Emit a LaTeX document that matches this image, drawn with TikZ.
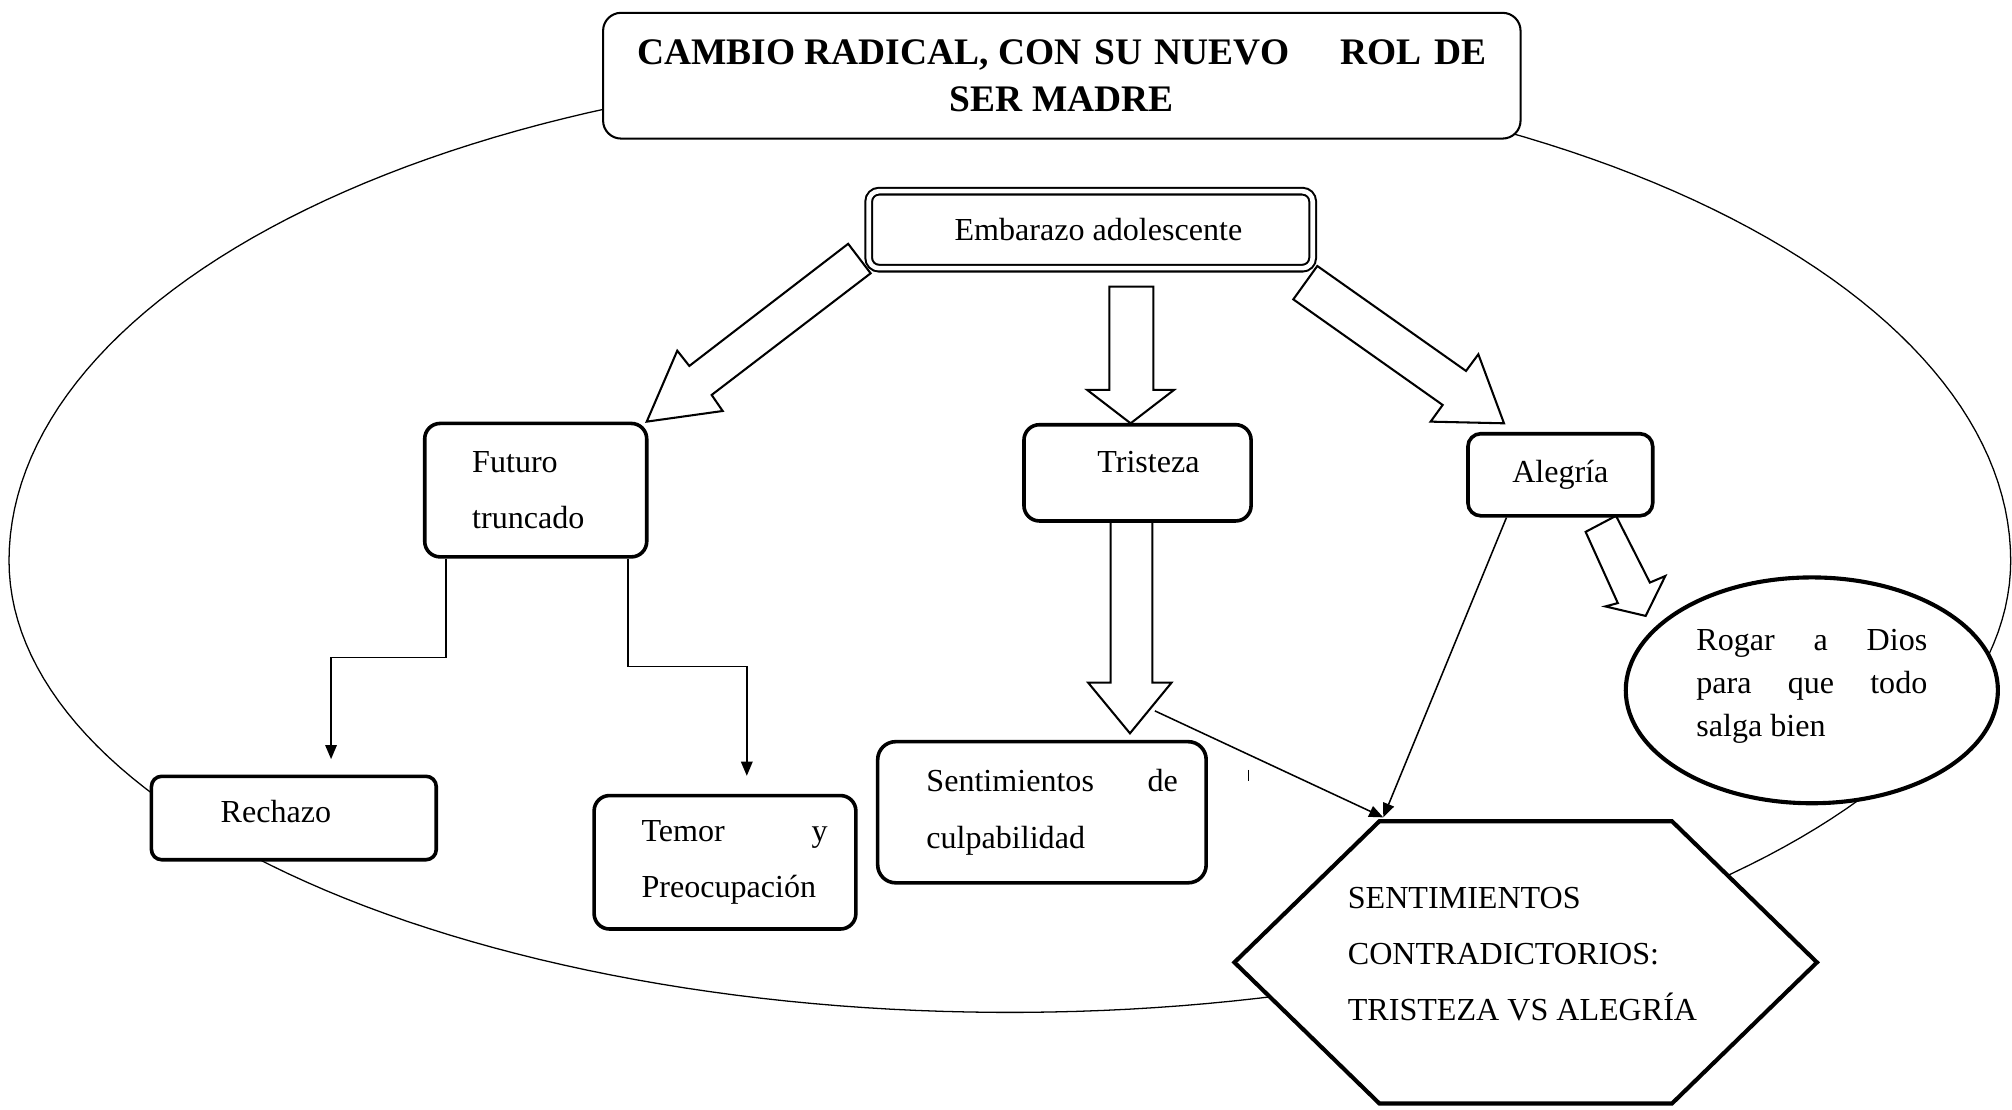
\documentclass[tikz,border=0pt]{standalone}
\usepackage{fontspec}
\setmainfont{Liberation Serif}
\usetikzlibrary{arrows.meta,shapes.geometric}
\newcommand\myfill{\hskip 0pt plus 1filll\relax}
\begin{document}
\begin{tikzpicture}[x=0.5pt,y=-0.5pt,
  txt/.style={font=\fontsize{12.5}{22}\selectfont},
  box/.style={draw, line width=1.4pt, rounded corners=6pt, fill=white, inner sep=0pt, txt},
  blockarrow/.style={draw, line width=0.8pt, fill=white, line join=miter},
  conn/.style={draw, line width=0.6pt, -{Triangle[length=5.5pt,width=4.5pt]}},
  outline/.style={draw, line width=0.5pt}]
\useasboundingbox (0,0) rectangle (1568,865);

% big enclosing curve
\draw[outline] plot[domain=180:360, samples=120] ({787+780*cos(\x)}, {437+385*sin(\x)})
  -- plot[domain=0:180, samples=120] ({787+780*cos(\x)}, {437+352*sin(\x)});

% block arrows
\draw[blockarrow] (661,190) -- (678.5,213) -- (554.6,307.8) -- (563.2,320.3) -- (504,328.6) -- (527.8,273.3) -- (537.2,285.2) -- cycle;
\draw[blockarrow] (864.5,223.4) -- (898.8,223.4) -- (898.8,303.9) -- (914.9,303.9) -- (881.1,329.9) -- (847.3,303.9) -- (864.5,303.9) -- cycle;
\draw[blockarrow] (1026.6,207.3) -- (1142.5,289.1) -- (1152.1,276.1) -- (1172.1,329.9) -- (1114.9,328.6) -- (1124.3,315.6) -- (1007.9,233.3) -- cycle;
\draw[blockarrow] (865.5,406.5) -- (898,406.5) -- (898,532) -- (913,532) -- (880.6,571.5) -- (848,532) -- (865.5,532) -- cycle;
\draw[blockarrow] (1259.4,402) -- (1285.8,454) -- (1297.8,448.9) -- (1282.5,480) -- (1251.1,472.6) -- (1260.8,470) -- (1235.7,414.5) -- cycle;

% title
\node[draw, line width=0.8pt, rounded corners=7pt, fill=white, minimum width=357.5pt, minimum height=49pt,
      inner sep=0pt, align=center, font=\fontsize{14.6}{18.5}\selectfont\bfseries] (title) at (827.5,59)
  {\makebox[331pt]{CAMBIO RADICAL, CON\hfill SU\hfill NUEVO\hfill\hfill\hfill\hfill ROL\hfill DE}\\SER MADRE};

% root
\node[draw, line width=0.8pt, double=white, double distance=1.8pt, rounded corners=4pt, fill=white,
      minimum width=173pt, minimum height=30pt, inner sep=0pt, txt] (emb) at (850,179)
  {\hspace*{6pt}Embarazo adolescente};

% second level
\node[box, minimum width=86.5pt, minimum height=52pt, text width=49.5pt, align=left] (fut) at (417.5,382) {Futuro\\truncado};
\node[box, minimum width=88.5pt, minimum height=37.5pt, text height=5pt, text depth=5pt] (tri) at (886.5,368.5) {\hspace*{8.5pt}Tristeza};
\node[box, rounded corners=5pt, minimum width=72pt, minimum height=32pt] (ale) at (1216,370) {Alegría};

% third level
\node[box, rounded corners=4pt, minimum width=111pt, minimum height=32.5pt, text height=8.5pt, text depth=5pt] (rech) at (229,637.5) {Rechazo\hspace*{14pt}};
\node[box, minimum width=102pt, minimum height=52pt, text width=80pt, align=justify] (tem) at (565,672)
  {\hspace*{7.5pt}Temor\myfill y\\\hspace*{7.5pt}Preocupación};
\node[box, rounded corners=7pt, minimum width=128pt, minimum height=55pt, text width=106pt, align=justify] (sent) at (812,633)
  {\hspace*{8pt}Sentimientos\myfill de\\\hspace*{8pt}culpabilidad};
\node[draw, ellipse, line width=1.6pt, fill=white, minimum width=145pt, minimum height=88pt, inner sep=0pt,
      text width=90pt, align=justify, font=\fontsize{12.5}{16.75}\selectfont] (rog) at (1412,538)
  {Rogar\myfill a\myfill Dios\\para\myfill que\myfill todo\\salga bien\vspace*{3pt}};

% hexagon
\draw[line width=1.6pt, fill=white] (962,750) -- (1075,640) -- (1303,640) -- (1416,750) -- (1303,860) -- (1075,860) -- cycle;
\node[inner sep=0pt, anchor=west, align=left, font=\fontsize{12.5}{21.75}\selectfont] (hex) at (1050,743.5)
  {SENTIMIENTOS\\CONTRADICTORIOS:\\TRISTEZA VS ALEGRÍA};
\coordinate (hexTL) at (1078,637);
\coordinate (triHead) at (900,554);

% connectors
\draw[conn, shorten >=6pt] ([xshift=9pt]fut.south west) -- ++(0,77) -| ([xshift=14.5pt]rech.north);
\draw[conn, shorten >=7pt] ([xshift=-8pt]fut.south east) -- ++(0,84) -| ([xshift=8.5pt]tem.north);
\draw[conn] (triHead) -- (hexTL);
\draw[conn] ([xshift=-21pt]ale.south) -- (hexTL);

% small stray mark
\draw[line width=0.7pt] (973,600) -- (973,609);
\end{tikzpicture}
\end{document}
